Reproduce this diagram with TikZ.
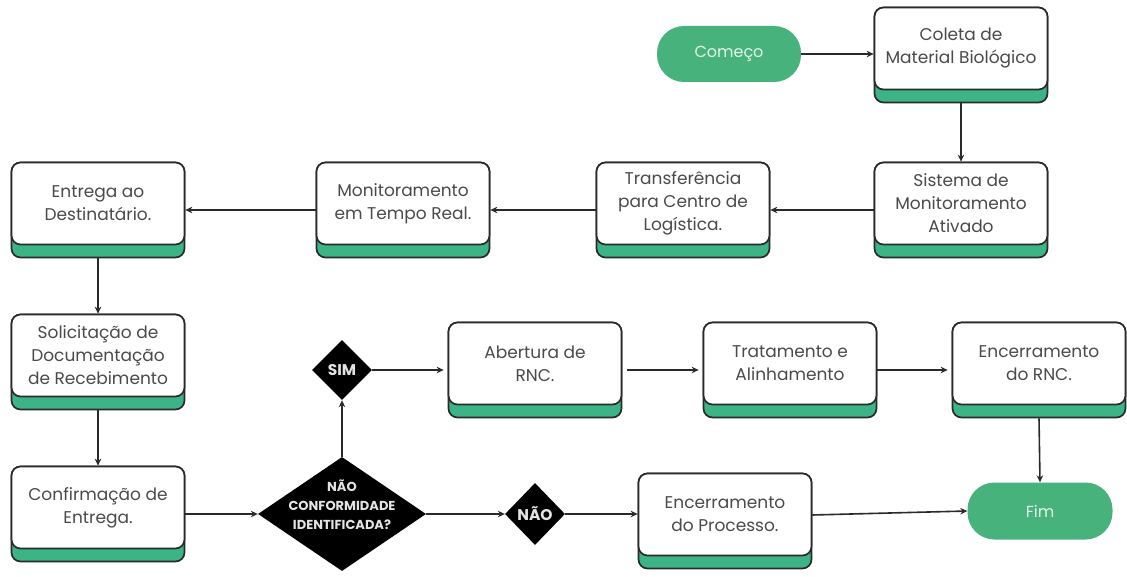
\documentclass[tikz,border=0pt]{standalone}
\usepackage{fontspec}
\setmainfont{Poppins}
\usetikzlibrary{shapes.geometric,arrows.meta}
\definecolor{grn}{HTML}{3DB487}
\definecolor{pill}{HTML}{47B27C}
\definecolor{pilltext}{HTML}{E2F6EA}
\definecolor{txt}{HTML}{4A4A4A}
\definecolor{edge}{HTML}{2A2A2A}
\definecolor{dtext}{HTML}{E4E4E4}
\tikzset{
 outerbox/.style={draw=edge, line width=1.7pt, fill=grn, rounded corners=9pt, minimum width=173pt, minimum height=95pt, inner sep=0pt},
 innerbox/.style={draw=edge, line width=1.7pt, fill=white, rounded corners=9pt, minimum width=173pt, minimum height=82pt, inner sep=0pt, align=center, text=txt, font=\fontsize{17}{23}\selectfont, anchor=north},
 pillnode/.style={fill=pill, rounded corners=27pt, minimum width=144pt, minimum height=56pt, inner sep=0pt, text=pilltext, font=\fontsize{16}{19}\selectfont},
 diam/.style={diamond, fill=black, inner sep=0pt},
 dlabel/.style={text=dtext, font=\bfseries\fontsize{15.5}{18}\selectfont, inner sep=0pt},
 arr/.style={draw=edge, line width=1.6pt, -{Stealth[length=7pt,width=6.5pt]}},
}
\newcommand\flowbox[4]{%
 \node[outerbox] (#1) at (#2,#3) {};
 \node[innerbox] (#1t) at (#1.north) {#4};
}
\begin{document}
\begin{tikzpicture}[x=1pt,y=-1pt]
\useasboundingbox[fill=white] (0,0) rectangle (1127,577);

% start / end
\node[pillnode] (comeco) at (729,54) {Começo};
\node[pillnode, minimum width=145pt, minimum height=57pt] (fim) at (1040,511) {Fim};

% boxes
\flowbox{coleta}{961}{55}{Coleta de\\Material Biológico}
\flowbox{sistema}{961}{210}{Sistema de\\Monitoramento\\Ativado}
\flowbox{transf}{683}{210}{Transferência\\para Centro de\\Logística.}
\flowbox{monit}{403}{210}{Monitoramento\\em Tempo Real.}
\flowbox{entrega}{98}{210}{Entrega ao\\Destinatário.}
\flowbox{solic}{98}{362}{Solicitação de\\Documentação\\de Recebimento}
\flowbox{confirm}{98}{514}{Confirmação de\\Entrega.}
\flowbox{abert}{535}{370}{Abertura de\\RNC.}
\flowbox{trat}{790}{370}{Tratamento e\\Alinhamento}
\flowbox{encrnc}{1039}{370}{Encerramento\\do RNC.}
\flowbox{encproc}{725}{521}{Encerramento\\do Processo.}

% decisions
\node[diam, minimum width=168pt, minimum height=114pt] (bigd) at (342,514) {};
\node[dlabel, align=center, font=\bfseries\fontsize{13}{19}\selectfont] (bigdt) at ([yshift=9pt]bigd.center) {NÃO\\CONFORMIDADE\\IDENTIFICADA?};
\node[diam, minimum width=60pt, minimum height=60pt] (sim) at (342,370) {};
\node[dlabel] (simt) at (sim.center) {SIM};
\node[diam, minimum width=60pt, minimum height=62pt] (nao) at (535,514) {};
\node[dlabel] (naot) at (nao.center) {NÃO};

% connectors
\draw[arr] (comeco.east) -- (comeco.east -| coleta.west);
\draw[arr] (coleta.south) -- (sistema.north);
\draw[arr] (sistema.west) -- (transf.east);
\draw[arr] (transf.west) -- (monit.east);
\draw[arr] (monit.west) -- (entrega.east);
\draw[arr] (entrega.south) -- (solic.north);
\draw[arr] (solic.south) -- (confirm.north);
\draw[arr] (confirm.east) -- (bigd.west);
\draw[arr] (bigd.north) -- (sim.south);
\draw[arr] (sim.east) -- ([xshift=-4pt]abert.west);
\draw[arr, shorten <=5pt] (abert.east) -- ([xshift=-4pt]trat.west);
\draw[arr] (trat.east) -- ([xshift=-4pt]encrnc.west);
\draw[arr] (encrnc.south) -- (fim.north);
\draw[arr] (bigd.east) -- (nao.west);
\draw[arr] (nao.east) -- (nao.east -| encproc.west);
\draw[arr] ([yshift=6pt]encproc.east) -- (fim.west);
\end{tikzpicture}
\end{document}
